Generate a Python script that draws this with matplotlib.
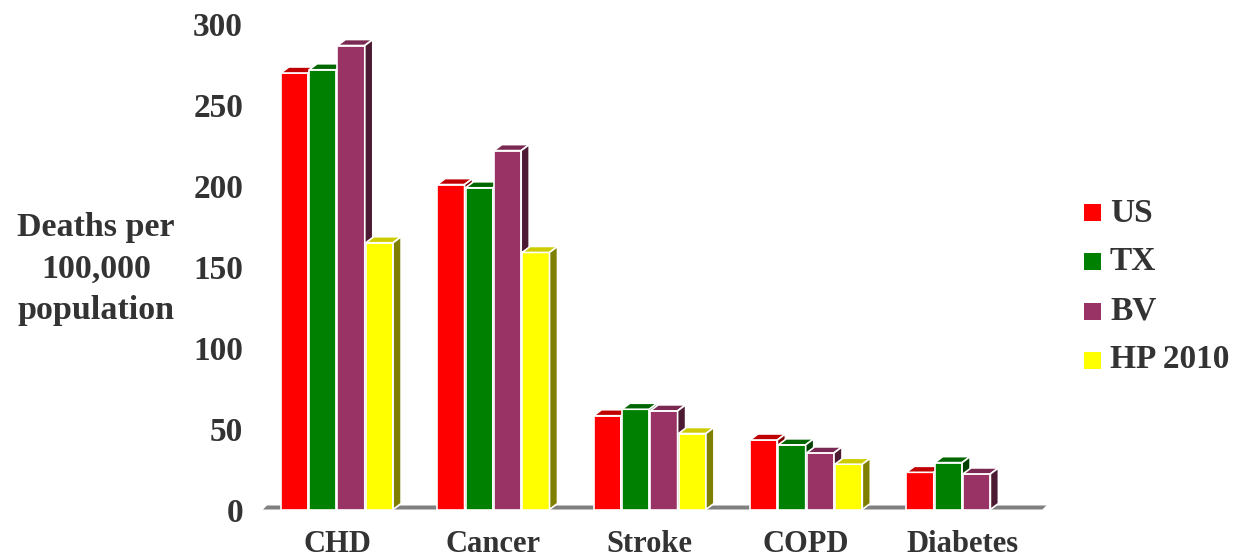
import matplotlib
matplotlib.use("Agg")
import matplotlib.pyplot as plt
from matplotlib.patches import Polygon, Rectangle
from matplotlib.transforms import blended_transform_factory
import numpy as np

# Deaths per 100,000 population by cause
categories = ["CHD", "Cancer", "Stroke", "COPD", "Diabetes"]
series_names = ["US", "TX", "BV", "HP 2010"]
us = [270, 201, 58, 43, 23]
tx = [272, 199, 62, 40, 29]
bv = [287, 222, 61, 35, 22]
hp = [165, 159, 47, 28, np.nan]
yticks = [0, 50, 100, 150, 200, 250, 300]

front_colors = ["#FF0000", "#008000", "#993366", "#FFFF00"]
top_colors = ["#C00000", "#006600", "#7A2952", "#CCCC00"]
side_colors = ["#800000", "#004000", "#4D1A33", "#808000"]
text_color = "#333333"
font = dict(family="Liberation Serif", weight="bold", color=text_color)

W, H = 1245, 558
fig = plt.figure(figsize=(W / 100, H / 100), dpi=100)
ax = fig.add_axes([250 / W, (H - 509.5) / H, 810 / W, 485 / H])
ax.set_xlim(-0.556, 4.623)
ax.set_ylim(0, 300)
for s in ax.spines.values():
    s.set_visible(False)

# pixel -> data conversion for the pseudo-3D depth
px_x = 5.179 / 810
px_y = 300 / 485
dx, dy = 8 * px_x, 6 * px_y

n = len(categories)
x = np.arange(n)

# gray floor strip under the columns
fdx, fdy = 4 * px_x, 4 * px_y
fx0, fx1 = -0.473, n - 1 + 0.51
ax.add_patch(Polygon([(fx0, 0), (fx1, 0), (fx1 + fdx, fdy), (fx0 + fdx, fdy)],
                     closed=True, facecolor="#808080", edgecolor="none",
                     zorder=1, clip_on=False))

slot = 0.181
width = 0.175
values = [us, tx, bv, hp]
z = 2
for i in range(n):
    for j, vals in enumerate(values):
        h = vals[i]
        if np.isnan(h):
            continue
        x0 = x[i] + (j - 2) * slot + (slot - width) / 2
        ec = dict(edgecolor="white", linewidth=1.2, joinstyle="miter", clip_on=False)
        ax.add_patch(Rectangle((x0, 0), width, h, facecolor=front_colors[j], zorder=z, **ec))
        ax.add_patch(Polygon([(x0, h), (x0 + width, h), (x0 + width + dx, h + dy), (x0 + dx, h + dy)],
                             closed=True, facecolor=top_colors[j], zorder=z, **ec))
        ax.add_patch(Polygon([(x0 + width, 0), (x0 + width + dx, dy), (x0 + width + dx, h + dy), (x0 + width, h)],
                             closed=True, facecolor=side_colors[j], zorder=z, **ec))
        z += 1

# category labels sit on a common baseline below the floor
ax.set_xticks(x)
ax.set_xticklabels([])
label_trans = blended_transform_factory(ax.transData, fig.transFigure)
base = 1 - 552 / H
for xi, name in zip(x, categories):
    ax.text(xi, base, name, transform=label_trans, ha="center", va="baseline",
            fontsize=22, clip_on=False, **font)
ax.set_yticks(yticks)
ax.set_yticklabels([str(t) for t in yticks], fontsize=24, **font)
ax.tick_params(axis="x", length=0)
ax.tick_params(axis="y", length=0, pad=5)

fig.text(96 / W, 1 - 269 / H, "Deaths per\n100,000\npopulation", ha="center", va="center",
         fontsize=24.5, linespacing=1.44, **font)

# legend
for k, name in enumerate(series_names):
    yc = 1 - (213 + 49 * k) / H
    fig.patches.append(Rectangle((1084 / W, yc - 8.5 / H), 17 / W, 17 / H,
                                 facecolor=front_colors[k], edgecolor="none",
                                 transform=fig.transFigure, figure=fig))
    fig.text(1110 / W, yc, name, ha="left", va="center", fontsize=24, **font)

fig.savefig("out.png", dpi=100)
